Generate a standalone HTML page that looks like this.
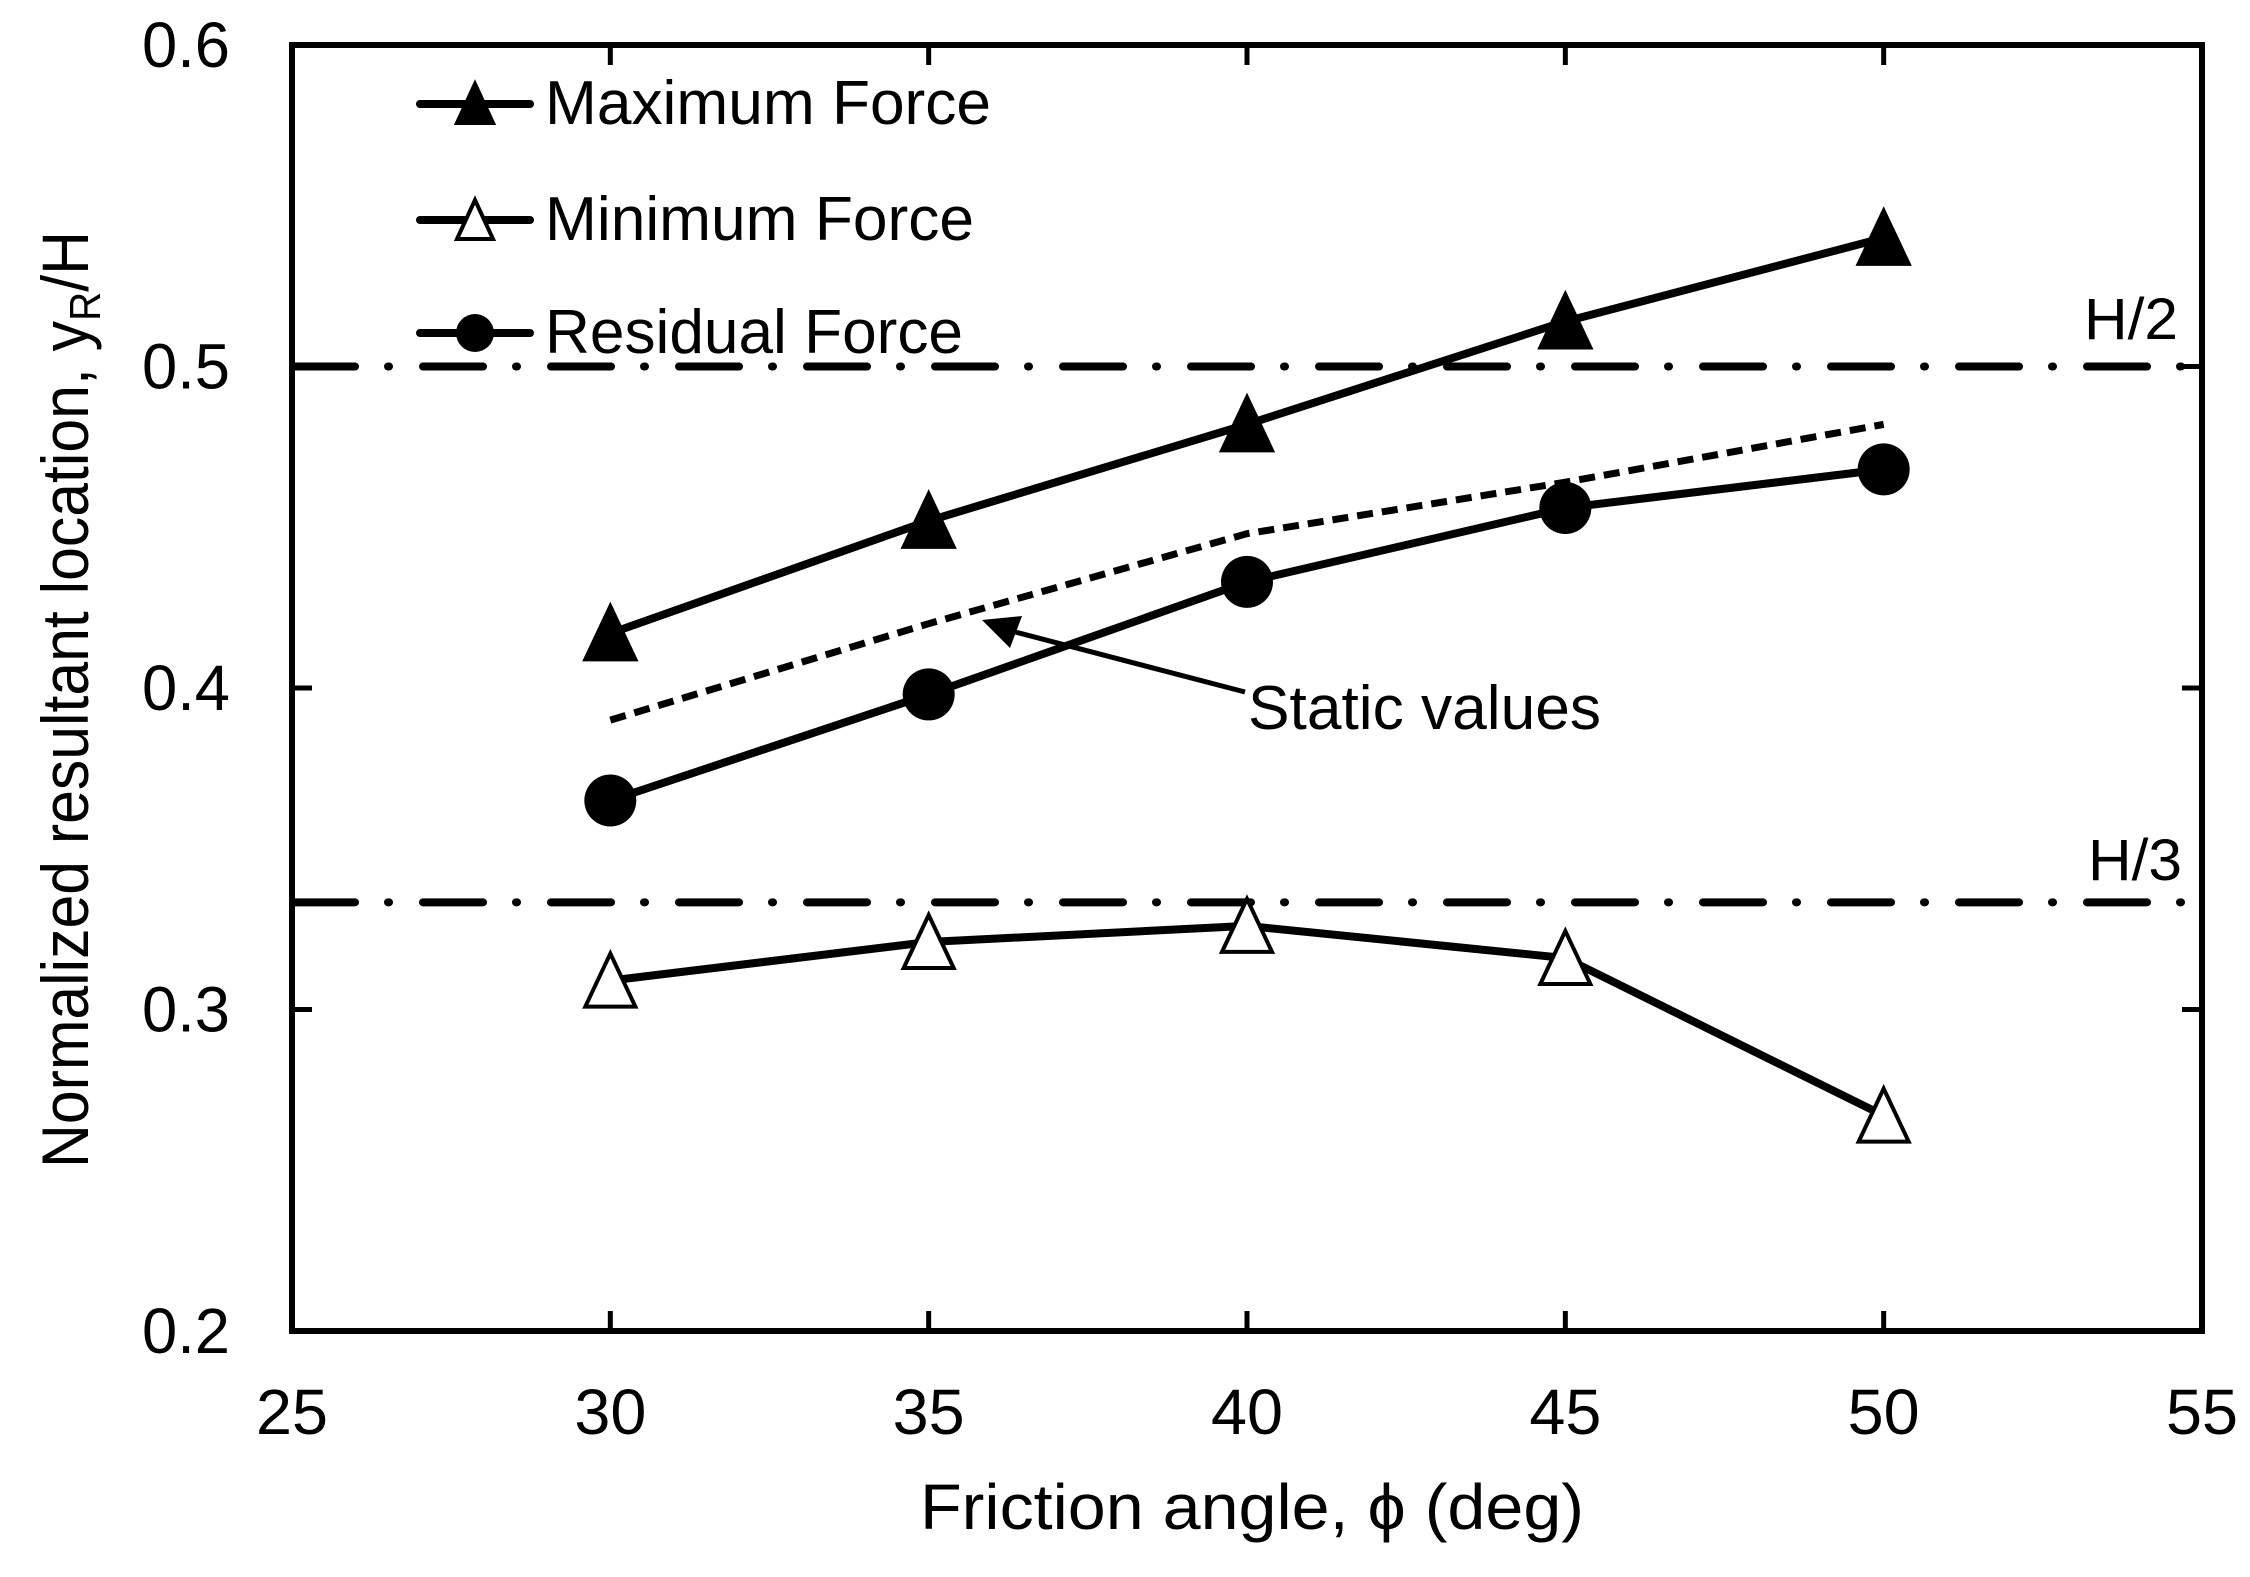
<!DOCTYPE html>
<html><head><meta charset="utf-8"><style>html,body{margin:0;padding:0;background:#fff}svg{display:block}text{font-family:"Liberation Sans",Arial,sans-serif;fill:#000}</style></head>
<body>
<svg id="chart" width="2250" height="1577" viewBox="0 0 2250 1577" xmlns="http://www.w3.org/2000/svg">
<g id="grid"></g>
</svg>
<script>
const xCategories = [30, 35, 40, 45, 50];
const maxForce = [0.417, 0.452, 0.482, 0.514, 0.540];
const minForce = [0.309, 0.321, 0.326, 0.316, 0.267];
const residualForce = [0.365, 0.398, 0.433, 0.456, 0.468];
const staticValues = [0.390, 0.420, 0.448, 0.464, 0.482];
const xTicks = [25, 30, 35, 40, 45, 50, 55];
const yTicks = [0.2, 0.3, 0.4, 0.5, 0.6];
const yTickLabels = ["0.2", "0.3", "0.4", "0.5", "0.6"];
const refLines = [0.5, 1/3];
const refLabels = ["H/2", "H/3"];

const L = 292, R = 2202, T = 45, B = 1331;
const xMin = 25, xMax = 55, yMin = 0.2, yMax = 0.6;
function sx(v) { return L + (v - xMin) / (xMax - xMin) * (R - L); }
function sy(v) { return B - (v - yMin) / (yMax - yMin) * (B - T); }

const svg = document.getElementById('chart');
const NS = 'http://www.w3.org/2000/svg';
function mk(tag, attrs, parent) {
  const e = document.createElementNS(NS, tag);
  for (const k in attrs) e.setAttribute(k, attrs[k]);
  (parent || svg).appendChild(e);
  return e;
}
function txt(s, attrs) { const e = mk('text', attrs); e.textContent = s; return e; }

refLines.forEach((v, i) => {
  const ln = mk('line', {x1: L + 3, x2: R - 3, y1: sy(v), y2: sy(v), stroke: '#000', 'stroke-width': 8, 'stroke-dasharray': '60 33 1 34', 'stroke-linecap': 'round'});
  
  
});
const rl1 = txt(refLabels[0], {x: 2084, y: 339, 'font-size': 58, textLength: 94, lengthAdjust: 'spacingAndGlyphs'});


const rl2 = txt(refLabels[1], {x: 2088, y: 880, 'font-size': 58, textLength: 94, lengthAdjust: 'spacingAndGlyphs'});



function pts(arr) { return arr.map((v, i) => sx(xCategories[i]) + ',' + sy(v)).join(' '); }

const st = mk('polyline', {points: pts(staticValues), fill: 'none', stroke: '#000', 'stroke-width': 7, 'stroke-dasharray': '16 9'});



function series(arr, name, marker) {
  const pl = mk('polyline', {points: pts(arr), fill: 'none', stroke: '#000', 'stroke-width': 8, 'stroke-linejoin': 'round'});
  
  
  arr.forEach((v, i) => {
    const cx = sx(xCategories[i]), cy = sy(v);
    let m;
    if (marker === 'circle') m = mk('circle', {cx: cx, cy: cy, r: 26, fill: '#000'});
    else m = mk('polygon', {points: (cx) + ',' + (cy - 27) + ' ' + (cx - 25) + ',' + (cy + 26) + ' ' + (cx + 25) + ',' + (cy + 26), fill: marker === 'filled' ? '#000' : '#fff', stroke: '#000', 'stroke-width': 4});
    
    
  });
}
series(minForce, 'minimum-force', 'open');
series(residualForce, 'residual-force', 'circle');
series(maxForce, 'maximum-force', 'filled');

const ar = mk('line', {x1: 1245, y1: 692, x2: 1000, y2: 628, stroke: '#000', 'stroke-width': 5});


const ah = mk('polygon', {points: '982,620 1022,616 1010,648', fill: '#000'});


const sv = txt('Static values', {x: 1248, y: 729, 'font-size': 62, textLength: 353, lengthAdjust: 'spacingAndGlyphs'});



const fr = mk('rect', {x: L, y: T, width: R - L, height: B - T, fill: 'none', stroke: '#000', 'stroke-width': 6});



xTicks.forEach(v => {
  const x = sx(v);
  if (v > xMin && v < xMax) {
    const t1 = mk('line', {x1: x, x2: x, y1: B, y2: B - 20, stroke: '#000', 'stroke-width': 5});
    
    
    const t2 = mk('line', {x1: x, x2: x, y1: T, y2: T + 20, stroke: '#000', 'stroke-width': 5});
    
    
  }
  const lb = txt(String(v), {x: x, y: 1434, 'font-size': 64, 'text-anchor': 'middle', textLength: 72, lengthAdjust: 'spacingAndGlyphs'});
  
  
});
yTicks.forEach((v, i) => {
  const y = sy(v);
  if (v > yMin && v < yMax) {
    const t1 = mk('line', {x1: L, x2: L + 20, y1: y, y2: y, stroke: '#000', 'stroke-width': 5});
    
    
    const t2 = mk('line', {x1: R, x2: R - 20, y1: y, y2: y, stroke: '#000', 'stroke-width': 5});
    
    
  }
  const lb = txt(yTickLabels[i], {x: 230, y: y + 22, 'font-size': 64, 'text-anchor': 'end', textLength: 88, lengthAdjust: 'spacingAndGlyphs'});
  
  
});

const xt = txt('Friction angle, \u03d5 (deg)', {x: 920, y: 1529, 'font-size': 64, textLength: 664, lengthAdjust: 'spacingAndGlyphs'});


const yt = mk('text', {x: 0, y: 0, 'font-size': 66, transform: 'translate(88,1168) rotate(-90)', textLength: 937, lengthAdjust: 'spacingAndGlyphs'});
yt.innerHTML = 'Normalized resultant location, y<tspan font-size="44" dy="12">R</tspan><tspan dy="-12">/H</tspan>';



const legend = [
  {label: 'Maximum Force', y: 104, type: 'filled', tl: 446, name: 'legend-maximum-force'},
  {label: 'Minimum Force', y: 220, type: 'open', tl: 429, name: 'legend-minimum-force'},
  {label: 'Residual Force', y: 333, type: 'circle', tl: 418, name: 'legend-residual-force'}
];
legend.forEach(e => {
  const g = mk('g', {});
  
  
  mk('line', {x1: 420, x2: 530, y1: e.y, y2: e.y, stroke: '#000', 'stroke-width': 8, 'stroke-linecap': 'round'}, g);
  const cx = 475;
  if (e.type === 'circle') mk('circle', {cx: cx, cy: e.y, r: 19, fill: '#000'}, g);
  else mk('polygon', {points: cx + ',' + (e.y - 20) + ' ' + (cx - 18) + ',' + (e.y + 19) + ' ' + (cx + 18) + ',' + (e.y + 19), fill: e.type === 'filled' ? '#000' : '#fff', stroke: '#000', 'stroke-width': 4}, g);
  const t = mk('text', {x: 545, y: e.y + 20, 'font-size': 62, textLength: e.tl, lengthAdjust: 'spacingAndGlyphs'}, g);
  t.textContent = e.label;
});
</script>
</body></html>
